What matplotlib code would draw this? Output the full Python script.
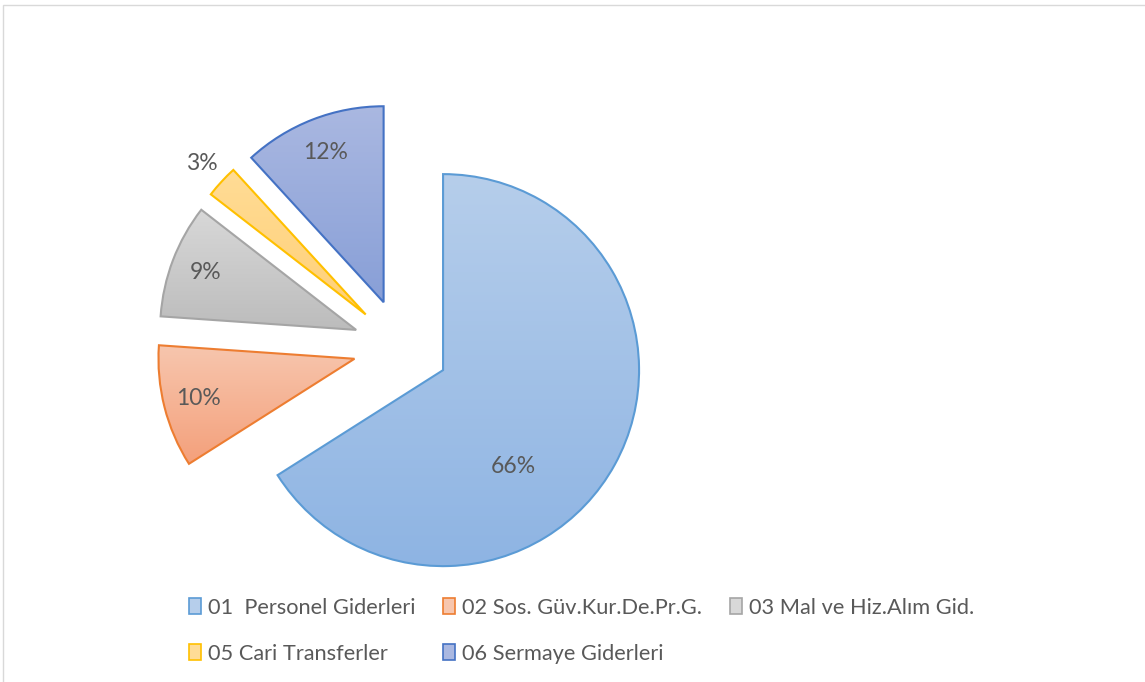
import matplotlib.pyplot as plt
import numpy as np
from matplotlib.colors import LinearSegmentedColormap
from matplotlib.patches import Rectangle

plt.rcParams["font.family"] = ["Lato", "DejaVu Sans"]

CATEGORIES = [
    "01  Personel Giderleri",
    "02 Sos. Güv.Kur.De.Pr.G.",
    "03 Mal ve Hiz.Alım Gid.",
    "05 Cari Transferler",
    "06 Sermaye Giderleri",
]
SHARES = [66.0, 10.1, 9.4, 2.7, 11.8]

EDGE_COLORS = ["#5B9BD5", "#ED7D31", "#A5A5A5", "#FFC000", "#4472C4"]
TOP_COLORS = ["#B6CEEB", "#F7C6AE", "#D8D8D8", "#FFDC96", "#AAB8E1"]
BOTTOM_COLORS = ["#8EB4E3", "#F4A07B", "#BCBCBC", "#FFD077", "#889FD7"]
TEXT_COLOR = "#595959"

W, H = 1145, 682


def main() -> None:
    fig = plt.figure(figsize=(W / 100, H / 100), dpi=100)
    ax = fig.add_axes([0, 0, 1, 1])

    radius = 196
    center = (401, H - 347)
    wedges, _, autotexts = ax.pie(
        SHARES,
        explode=[48] * len(SHARES),
        center=center,
        radius=radius,
        startangle=90,
        counterclock=False,
        autopct=lambda p: f"{p:.0f}%",
        pctdistance=0.82,
        textprops={"color": TEXT_COLOR, "fontsize": 16.5},
        wedgeprops={"linewidth": 1.5},
        frame=True,
    )

    # gradient fill for each slice, clipped to the wedge
    grad = np.linspace(1, 0, 256).reshape(-1, 1)
    for w, top, bottom, edge in zip(wedges, TOP_COLORS, BOTTOM_COLORS, EDGE_COLORS):
        ext = w.get_path().get_extents()
        cmap = LinearSegmentedColormap.from_list("g", [bottom, top])
        im = ax.imshow(grad, cmap=cmap, aspect="auto", interpolation="bilinear",
                       extent=[ext.x0, ext.x1, ext.y0, ext.y1], zorder=1)
        im.set_clip_path(w)
        w.set_facecolor("none")
        w.set_edgecolor(edge)
        w.set_zorder(2)

    # label placement like the original (best fit)
    th = np.deg2rad(-54)
    cx, cy = wedges[0].center
    autotexts[0].set_position((cx + 0.61 * radius * np.cos(th), cy + 0.61 * radius * np.sin(th)))
    th3 = np.deg2rad((wedges[3].theta1 + wedges[3].theta2) / 2)
    cx, cy = wedges[3].center
    autotexts[3].set_position((cx + 1.14 * radius * np.cos(th3), cy + 1.14 * radius * np.sin(th3)))
    for t in autotexts:
        t.set_zorder(3)

    ax.set_xlim(0, W)
    ax.set_ylim(0, H)
    ax.set_aspect("auto")
    ax.axis("off")

    # legend: row-major order in 3 columns
    handles = [Rectangle((0, 0), 1, 1, facecolor=b, edgecolor=e, linewidth=1.2)
               for b, e in zip(TOP_COLORS, EDGE_COLORS)]
    order = [0, 3, 1, 4, 2]
    fig.legend(
        [handles[i] for i in order],
        [CATEGORIES[i] for i in order],
        ncol=3,
        loc="upper left",
        bbox_to_anchor=(189 / W, 1 - 598 / H),
        frameon=False,
        fontsize=15.7,
        labelcolor=TEXT_COLOR,
        handlelength=0.55,
        handleheight=0.75,
        handletextpad=0.3,
        columnspacing=1.3,
        labelspacing=1.17,
        borderaxespad=0,
        borderpad=0,
    )

    # chart area border
    fig.patches.append(Rectangle((3 / W, -0.01), 1.01, 1 - 5 / H + 0.01,
                                 transform=fig.transFigure, fill=False,
                                 edgecolor="#D9D9D9", linewidth=1))

    fig.savefig("out.png", dpi=100)
    plt.close(fig)


if __name__ == "__main__":
    main()
